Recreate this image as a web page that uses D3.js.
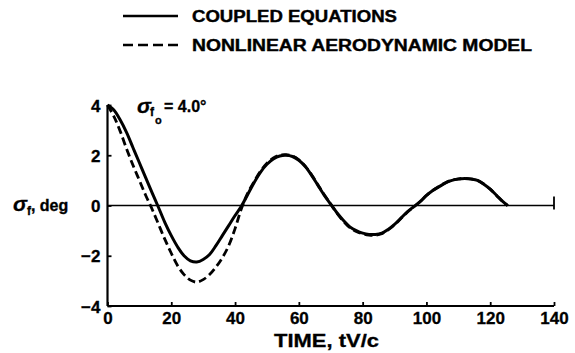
<!DOCTYPE html>
<html>
<head>
<meta charset="utf-8">
<script src="https://cdn.jsdelivr.net/npm/d3@7"></script>
<style>
  html, body { margin: 0; padding: 0; background: #fff; }
  svg { display: block; }
  text { font-family: "Liberation Sans", Arial, sans-serif; font-weight: bold; fill: #000; }
</style>
</head>
<body>
<svg id="chart" width="575" height="353"></svg>
<script>
// Time samples, tV/c
const timeSteps = [0, 2, 4, 6, 8, 10, 12, 14, 16, 18, 20, 22, 24, 26, 28, 30, 32, 34, 36, 38, 40, 42,
  44, 46, 48, 50, 52, 54, 56, 58, 60, 62, 64, 66, 68, 70, 72, 74, 76, 78, 80, 82, 84, 86, 88, 90,
  92, 94, 96, 98, 100, 102, 104, 106, 108, 110, 112, 114, 116, 118, 120, 122, 124, 125.5];

// Flap angle sigma_f (deg) from the coupled equations
const coupled = [4.0, 3.8, 3.4, 2.9, 2.3, 1.7, 1.1, 0.5, -0.08, -0.68, -1.2, -1.65, -2.0, -2.2, -2.25,
  -2.15, -1.95, -1.6, -1.2, -0.8, -0.4, -0.02,
  0.45, 0.92, 1.33, 1.64, 1.85, 1.97, 2.0, 1.95, 1.8, 1.55, 1.2, 0.8, 0.4, 0.05, -0.3, -0.6, -0.85,
  -1.0, -1.1, -1.15, -1.15, -1.1, -0.95, -0.75, -0.5, -0.25, -0.05, 0.15, 0.4, 0.6, 0.75, 0.9, 1.0,
  1.05, 1.07, 1.05, 1.0, 0.85, 0.65, 0.4, 0.15, 0.0];

// Flap angle sigma_f (deg) from the nonlinear aerodynamic model
const nonlinear = [4.0, 3.55, 2.95, 2.25, 1.6, 1.0, 0.4, -0.15, -0.75, -1.35, -1.9, -2.4, -2.75, -2.97, -3.05,
  -2.95, -2.75, -2.45, -2.08, -1.6, -0.92, -0.12,
  0.5, 0.96, 1.37, 1.68, 1.89, 2.0, 2.02, 1.97, 1.82, 1.57, 1.22, 0.82, 0.42, 0.05, -0.32, -0.63, -0.88,
  -1.03, -1.13, -1.18, -1.18, -1.12, -0.97, -0.77, -0.52, -0.27, -0.06, 0.15, 0.4, 0.6, 0.76, 0.91, 1.01,
  1.06, 1.08, 1.06, 1.0, 0.85, 0.65, 0.4, 0.15, 0.0];

const xTicks = [0, 20, 40, 60, 80, 100, 120, 140];
const yTicks = [-4, -2, 0, 2, 4];
const legendLabels = ["COUPLED EQUATIONS", "NONLINEAR AERODYNAMIC MODEL"];

const svg = d3.select("#chart");

const x = d3.scaleLinear().domain([0, 140]).range([107.5, 554]);
const y = d3.scaleLinear().domain([-4, 4]).range([306, 105]);

const tickFont = sel => sel.attr("font-size", 17).attr("font-family", "Liberation Sans, Arial, sans-serif")
  .attr("font-weight", "bold").attr("fill", "#000").attr("stroke", "#000").attr("stroke-width", 0.3);

// Axes
const xAxis = d3.axisBottom(x).tickValues(xTicks).tickSize(-4).tickPadding(7).tickFormat(d3.format("d"));
const gx = svg.append("g").attr("transform", `translate(0,${y(-4)})`).call(xAxis);
gx.select(".domain").attr("d", `M${x(0)},0H${x(140)}`).attr("stroke", "#000").attr("stroke-width", 2.2);
gx.selectAll(".tick line").attr("stroke", "#000").attr("stroke-width", 1.8);
gx.selectAll(".tick text").call(tickFont).attr("dy", "0.62em");

const yAxis = d3.axisLeft(y).tickValues(yTicks).tickSize(-4).tickPadding(7).tickFormat(d => d < 0 ? "\u2212" + Math.abs(d) : d);
const gy = svg.append("g").attr("transform", `translate(${x(0)},0)`).call(yAxis);
gy.select(".domain").attr("d", `M0,${y(4)}V${y(-4)}`).attr("stroke", "#000").attr("stroke-width", 2.2);
gy.selectAll(".tick line").attr("stroke", "#000").attr("stroke-width", 1.8);
gy.selectAll(".tick text").call(tickFont).attr("dy", "0.36em");

// Zero reference line with end bar
svg.append("line").attr("x1", x(0)).attr("x2", x(140)).attr("y1", y(0)).attr("y2", y(0))
  .attr("stroke", "#000").attr("stroke-width", 1.6);
svg.append("line").attr("x1", x(140)).attr("x2", x(140)).attr("y1", y(0) - 9).attr("y2", y(0) + 4)
  .attr("stroke", "#000").attr("stroke-width", 1.8);

// Response curves
const line = d3.line().x((d, i) => x(timeSteps[i])).y(d => y(d)).curve(d3.curveCatmullRom.alpha(0.5));

svg.append("path").datum(nonlinear).attr("d", line).attr("fill", "none")
  .attr("stroke", "#000").attr("stroke-width", 2.8).attr("stroke-dasharray", "8,4");
svg.append("path").datum(coupled).attr("d", line).attr("fill", "none")
  .attr("stroke", "#000").attr("stroke-width", 3);

// Legend
const legend = svg.append("g");
[0, 1].forEach(i => {
  const ly = 16 + i * 29;
  legend.append("line").attr("x1", 123).attr("x2", 178).attr("y1", ly).attr("y2", ly)
    .attr("stroke", "#000").attr("stroke-width", 2.4)
    .attr("stroke-dasharray", i === 1 ? "10,5" : null);
  legend.append("text").attr("x", 192).attr("y", ly + 6).attr("font-size", 16)
    .attr("stroke", "#000").attr("stroke-width", 0.4)
    .attr("textLength", i === 0 ? 205 : 340).attr("lengthAdjust", "spacingAndGlyphs")
    .text(legendLabels[i]);
});

// Y-axis title: sigma_f, deg
const yt = svg.append("text").attr("x", 13).attr("y", 211).attr("font-size", 16)
  .attr("stroke", "#000").attr("stroke-width", 0.3);
yt.append("tspan").attr("font-style", "italic").attr("font-size", 21).text("\u03c3");
yt.append("tspan").attr("font-size", 12).attr("dy", 4).text("f");
yt.append("tspan").attr("dy", -4).text(", deg");

// Initial condition annotation: sigma with subscript f and second-level subscript o
const annX = 137, annY = 113;
svg.append("text").attr("x", annX).attr("y", annY).attr("font-size", 21)
  .attr("font-style", "italic").attr("stroke", "#000").attr("stroke-width", 0.3).text("\u03c3");
svg.append("text").attr("x", annX + 13).attr("y", annY + 3).attr("font-size", 12)
  .attr("stroke", "#000").attr("stroke-width", 0.3).text("f");
svg.append("text").attr("x", annX + 18).attr("y", annY + 11).attr("font-size", 11)
  .attr("stroke", "#000").attr("stroke-width", 0.3).text("o");
svg.append("text").attr("x", annX + 27).attr("y", annY - 1).attr("font-size", 16)
  .attr("stroke", "#000").attr("stroke-width", 0.3).text("= 4.0\u00b0");

// X-axis title
svg.append("text").attr("x", 274).attr("y", 347).attr("font-size", 18)
  .attr("stroke", "#000").attr("stroke-width", 0.3)
  .attr("textLength", 105).attr("lengthAdjust", "spacingAndGlyphs").text("TIME, tV/c");
</script>
</body>
</html>
